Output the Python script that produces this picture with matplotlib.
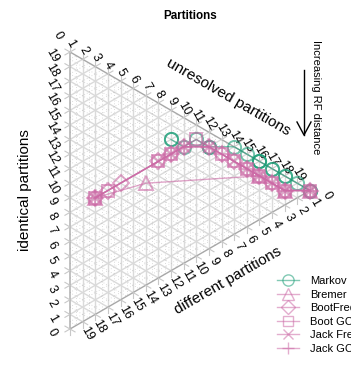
import numpy as np
import matplotlib
matplotlib.use("Agg")
import matplotlib.pyplot as plt
from matplotlib.lines import Line2D

plt.rcParams['font.family'] = ['Liberation Sans', 'DejaVu Sans']

# Partition counts (identical, unresolved, different); each tree has 19 partitions
TOTAL = 19

markov_identical = [9, 9, 8, 8, 7, 7, 6, 5, 4, 4, 4, 3, 3, 2, 2, 1, 0, 0]
markov_unresolved = [8, 8, 9, 10, 11, 11, 13, 14, 15, 15, 15, 16, 16, 17, 17, 18, 19, 19]
markov_different = [2, 2, 2, 1, 1, 1, 0, 0, 0, 0, 0, 0, 0, 0, 0, 0, 0, 0]

bremer_identical = [8, 7, 3, 1, 0]
bremer_unresolved = [2, 6, 15, 17, 19]
bremer_different = [9, 6, 1, 1, 0]

bootfreq_identical = [8, 8, 8, 8, 8, 8, 7, 6, 5, 4, 3, 2, 1, 0]
bootfreq_unresolved = [2, 3, 4, 7, 8, 9, 11, 12, 13, 14, 15, 16, 17, 19]
bootfreq_different = [9, 8, 7, 4, 3, 2, 1, 1, 1, 1, 1, 1, 1, 0]

bootgc_identical = [8, 8, 8, 8, 8, 6, 5, 4, 3, 2, 1, 0]
bootgc_unresolved = [2, 3, 7, 8, 10, 12, 13, 14, 15, 16, 17, 19]
bootgc_different = [9, 8, 4, 3, 1, 1, 1, 1, 1, 1, 1, 0]

jackfreq_identical = [8, 8, 8, 8, 7, 5, 4, 3, 2, 1, 0]
jackfreq_unresolved = [2, 7, 8, 9, 11, 13, 14, 15, 16, 17, 19]
jackfreq_different = [9, 4, 3, 2, 1, 1, 1, 1, 1, 1, 0]

jackgc_identical = [8, 8, 8, 7, 6, 4, 3, 2, 1, 0]
jackgc_unresolved = [2, 8, 9, 11, 12, 14, 15, 16, 17, 19]
jackgc_different = [9, 3, 2, 1, 1, 1, 1, 1, 1, 0]

series_names = ["Markov", "Bremer", "BootFreq", "Boot GC", "Jack Freq", "Jack GC"]

GREEN = '#1B9E77'
PINK = '#CC6AA6'

S = 277 / TOTAL  # pixels per partition


def tern(identical, unresolved, different):
    """Ternary -> cartesian (identical vertex top-left, unresolved right)."""
    a = np.asarray(identical, float)
    b = np.asarray(unresolved, float)
    c = np.asarray(different, float)
    tot = a + b + c
    b = b / tot * TOTAL
    a = a / tot * TOTAL
    return b * np.sqrt(3) / 2, a + b / 2


def off(dx, dy):
    # pixel offset -> data offset
    return dx / S, -dy / S


def pix(x, y):
    # pixel position in the figure -> data position
    return (x - 70) / S, (329 - y) / S


fig = plt.figure(figsize=(3.51, 3.73), dpi=100)
ax = fig.add_axes([0, 0, 1, 1])
ax.set_xlim(-70 / S, (351 - 70) / S)
ax.set_ylim((329 - 373) / S, 329 / S)
ax.axis('off')

# grid
for k in np.arange(0.5, TOTAL, 0.5):
    major = float(k).is_integer()
    kw = dict(color='#DADADA', lw=1.0) if major else dict(color='#BBBBBB', lw=0.5, ls=(0, (1, 3)))
    for p, q in [((k, 0, TOTAL - k), (k, TOTAL - k, 0)),
                 ((TOTAL - k, k, 0), (0, k, TOTAL - k)),
                 ((TOTAL - k, 0, k), (0, TOTAL - k, k))]:
        x, y = tern([p[0], q[0]], [p[1], q[1]], [p[2], q[2]])
        ax.plot(x, y, zorder=1, **kw)

# outer triangle
ex, ey = tern([TOTAL, 0, 0, TOTAL], [0, TOTAL, 0, 0], [0, 0, TOTAL, 0])
ax.plot(ex, ey, color='#A8A8A8', lw=1.0, zorder=2)

# ticks (grid lines extended outside) and tick labels
c30, s30 = np.cos(np.pi / 6), np.sin(np.pi / 6)
tl = 0.4
for k in range(TOTAL + 1):
    # left axis: identical
    x, y = tern(k, 0, TOTAL - k)
    for d in [(-c30, s30), (-c30, -s30)]:
        ax.plot([x, x + d[0] * tl], [y, y + d[1] * tl], color='#C8C8C8', lw=0.8)
    ox, oy = off(-18, 4)
    ax.text(x + ox, y + oy, str(k), fontsize=9, rotation=-60, ha='center', va='center')
    # upper axis: unresolved
    x, y = tern(TOTAL - k, k, 0)
    for d in [(0, 1), (c30, s30)]:
        ax.plot([x, x + d[0] * tl], [y, y + d[1] * tl], color='#C8C8C8', lw=0.8)
    ox, oy = off(-12, -16)
    ax.text(x + ox, y + oy, str(k), fontsize=9, rotation=-60, ha='center', va='center')
    # lower axis: different
    x, y = tern(0, TOTAL - k, k)
    for d in [(0, -1), (c30, -s30)]:
        ax.plot([x, x + d[0] * tl], [y, y + d[1] * tl], color='#C8C8C8', lw=0.8)
    ox, oy = off(17, 5)
    ax.text(x + ox, y + oy, str(k), fontsize=9, rotation=-60, ha='center', va='center')

# axis titles
ax.text(*pix(25, 190), 'identical partitions', fontsize=11, rotation=90, ha='center', va='center')
ax.text(*pix(228, 97), 'unresolved partitions', fontsize=11, rotation=-30, ha='center', va='center')
ax.text(*pix(228, 281), 'different partitions', fontsize=11, rotation=30, ha='center', va='center')

# series
series = [
    ("Markov", markov_identical, markov_unresolved, markov_different, 'o', GREEN, 9.5),
    ("Bremer", bremer_identical, bremer_unresolved, bremer_different, '^', PINK, 9.5),
    ("BootFreq", bootfreq_identical, bootfreq_unresolved, bootfreq_different, 'D', PINK, 8),
    ("Boot GC", bootgc_identical, bootgc_unresolved, bootgc_different, 's', PINK, 8.5),
    ("Jack Freq", jackfreq_identical, jackfreq_unresolved, jackfreq_different, 'x', PINK, 8.5),
    ("Jack GC", jackgc_identical, jackgc_unresolved, jackgc_different, '+', PINK, 11),
]
handles = []
for name, a, b, c, mk, col, ms in series:
    x, y = tern(a, b, c)
    ax.plot(x, y, color=col, alpha=0.6, lw=1.0, marker=mk, markersize=ms,
            markerfacecolor='none', markeredgewidth=1.4, zorder=5)
    handles.append(Line2D([], [], color=col, alpha=0.55, lw=1.0, marker=mk, markersize=ms * 0.85,
                          markerfacecolor='none', markeredgewidth=1.0))

ax.legend(handles, series_names, loc='upper left', bbox_to_anchor=(277 / 351, 1 - 276 / 373),
          frameon=False, fontsize=8, handlelength=2.0, handletextpad=1.0,
          labelspacing=0.32, borderaxespad=0, borderpad=0)

# title and RF-distance annotation
fig.text(190 / 351, 1 - 16 / 373, 'Partitions', fontsize=8.4, fontweight='bold',
         ha='center', va='center')
ax.plot(*zip(pix(304, 70), pix(304, 135)), color='black', lw=1)
ax.plot(*zip(pix(297, 122), pix(304, 135), pix(311, 122)), color='black', lw=1)
ax.text(*pix(316, 97), 'Increasing RF distance', fontsize=8, rotation=-90,
        ha='center', va='center')

fig.savefig('out.png', dpi=100)
